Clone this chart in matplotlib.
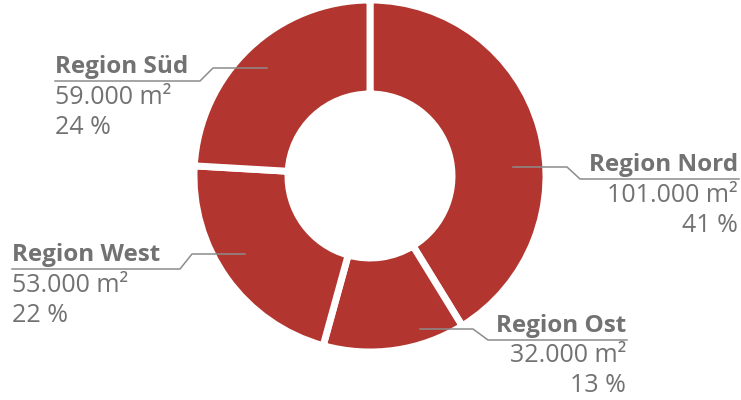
# Flächenverteilung nach Region (Ringdiagramm)
import matplotlib
matplotlib.use("Agg")
import matplotlib.pyplot as plt

regions=["Region Nord","Region Ost","Region West","Region Süd"]
areas=[101000,32000,53000,59000] # m2
area_labels=["101.000 m²","32.000 m²","53.000 m²","59.000 m²"]
pct_labels=["41 %","13 %","22 %","24 %"]

RED="#b3352f"
GRAY="#727272"
LINE="#8c8c8c"
H=400 #px

def fy(y):
    # Bildkoordinate (oben=0) -> Achse
    return H-y

def main():
    plt.rcParams['font.family']=['Open Sans','DejaVu Sans']
    fig=plt.figure(figsize=(7.41,4.0),dpi=100)
    ax=fig.add_axes([0,0,1,1])

    ax.pie(
        areas,startangle=90,counterclock=False,
        center=(370,fy(176)),radius=176,colors=[RED]*len(areas),
        wedgeprops=dict(width=94,edgecolor="white",linewidth=5),
    )
    ax.set_xlim(0,741)
    ax.set_ylim(0,H)
    ax.set_aspect("equal")
    ax.axis("off")

    # Beschriftung: Linienzug, Textposition, Ausrichtung
    layout={
        "Region Nord":([(513,167),(567,167),(580,179),(739,179)],738,"right"),
        "Region Ost":([(420,329),(473,329),(488,340),(627,340)],626,"right"),
        "Region West":([(12,269),(180,269),(192,254),(245,254)],12,"left"),
        "Region Süd":([(55,81),(200,81),(213,68),(267,68)],55,"left"),
    }
    for name,a_lab,p_lab in zip(regions,area_labels,pct_labels):
        pts,tx,ha=layout[name]
        ax.plot([p[0] for p in pts],[fy(p[1]) for p in pts],color=LINE,lw=1.1)
        yl=pts[-1][1] if ha=="right" else pts[0][1]
        ax.text(tx,fy(yl-8),name,ha=ha,va="baseline",fontsize=17.5,
                fontweight="bold",color=GRAY)
        ax.text(tx,fy(yl+16),a_lab,ha=ha,va="center",fontsize=18,color=GRAY)
        ax.text(tx,fy(yl+46),p_lab,ha=ha,va="center",fontsize=18,color=GRAY)

    fig.savefig("out.png",dpi=100,facecolor="white")


if __name__=="__main__":
    main()
